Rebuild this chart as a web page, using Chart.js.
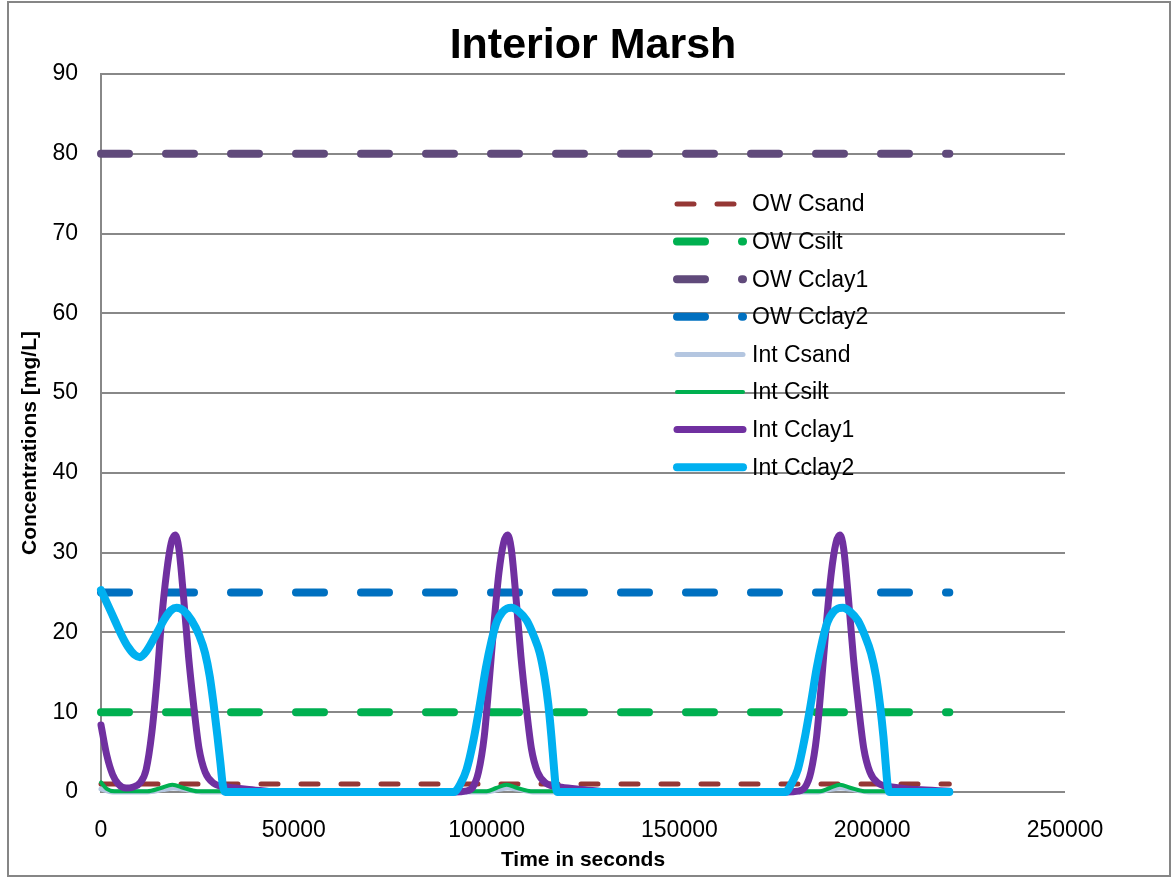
<!DOCTYPE html>
<html>
<head>
<meta charset="utf-8">
<title>Interior Marsh</title>
<script src="https://cdn.jsdelivr.net/npm/chart.js@4.4.1/dist/chart.umd.min.js"></script>
<style>
  html, body { margin: 0; padding: 0; background: #fff; }
  #wrap { width: 1174px; height: 878px; }
</style>
</head>
<body>
<div id="wrap"><canvas id="chart" width="1174" height="878"></canvas></div>
<script>
const FONT = '"Liberation Sans", Arial, sans-serif';

// x axis ticks (seconds) and y axis ticks (mg/L)
const xTicks = [0, 50000, 100000, 150000, 200000, 250000];
const yTicks = [0, 10, 20, 30, 40, 50, 60, 70, 80, 90];

const seriesLabels = ['OW Csand', 'OW Csilt', 'OW Cclay1', 'OW Cclay2',
                      'Int Csand', 'Int Csilt', 'Int Cclay1', 'Int Cclay2'];

// open water boundary concentrations (constant)
const owTime = [0, 220000];
const owCsand = [1, 1];
const owCsilt = [10, 10];
const owCclay1 = [80, 80];
const owCclay2 = [25, 25];

// interior marsh concentrations
const intCsandTime = [0, 3000, 12000, 16000, 18800, 22000, 26000, 100000, 103000, 105500, 108500, 112000,
                      186000, 189000, 191800, 195000, 199000, 220000];
const intCsand = [0.4, 0, 0, 0.3, 0.5, 0.3, 0, 0, 0.3, 0.5, 0.3, 0,
                  0, 0.3, 0.5, 0.3, 0, 0];

const intCsiltTime = [0, 1500, 3500, 12000, 15500, 18500, 21500, 25000, 100000, 102500, 105200, 108000, 111500,
                      186500, 189000, 191600, 194500, 198000, 220000];
const intCsilt = [1.2, 0.4, 0.1, 0.1, 0.5, 0.9, 0.5, 0.1, 0.1, 0.5, 0.9, 0.5, 0.1,
                  0.1, 0.5, 0.9, 0.5, 0.1, 0.1];

const intCclay1Time = [0, 1500, 3000, 4500, 6500, 8200, 10200, 11700, 13200, 14500, 15700, 17000, 18200, 19200,
                       20200, 21400, 22700, 24000, 25400, 27000, 29200, 33200, 39200, 45200,
                       92000, 94400, 96400, 97900, 99400, 100700, 101900, 103200, 104400, 105400,
                       106400, 107600, 108900, 110200, 111600, 113200, 115400, 119400, 125400, 131400,
                       178000, 180600, 182600, 184100, 185600, 186900, 188100, 189400, 190600, 191600,
                       192600, 193800, 195100, 196400, 197800, 199400, 201600, 205600, 211600, 220000];
const intCclay1 = [8.4, 4.6, 2.2, 1.0, 0.5, 0.6, 1.2, 2.8, 7.5, 14, 21.5, 27.5, 31.2, 32.2,
                   30.5, 24.5, 17, 11, 5.5, 2.5, 1.1, 0.6, 0.3, 0,
                   0, 0.1, 0.6, 2.5, 7, 14, 21, 27.5, 31.2, 32.2,
                   30.5, 24.5, 17, 11, 5.5, 2.5, 1.1, 0.6, 0.3, 0,
                   0, 0.1, 0.6, 2.5, 7, 14, 21, 27.5, 31.2, 32.2,
                   30.5, 24.5, 17, 11, 5.5, 2.5, 1.1, 0.6, 0.3, 0.1];

const intCclay2Time = [0, 2000, 3600, 5500, 7000, 8700, 10100, 11700, 14000, 16600, 18200, 19600, 21500,
                       23500, 25500, 27000, 28200, 29200, 30200, 31000, 31600, 32200,
                       91500, 93200, 94800, 96600, 98300, 99800, 101300, 102600, 104000, 105300, 106500,
                       108400, 110400, 112200, 113800, 115000, 116000, 116800, 117400, 117900, 118400,
                       177500, 179000, 180700, 182400, 184100, 185600, 187100, 188400, 189800, 191100, 192400,
                       194300, 196300, 198100, 199700, 201000, 202000, 202900, 203500, 204000, 204500, 220000];
const intCclay2 = [25.3, 23.2, 21.5, 19.5, 18.2, 17.2, 16.9, 17.6, 19.5, 21.8, 22.8, 23.1, 22.7,
                   21.5, 19.6, 17.4, 14.5, 11, 7, 3.5, 0.8, 0,
                   0, 1.0, 2.8, 6.5, 11.1, 15.5, 19, 21.3, 22.5, 23, 23.1,
                   22.6, 21.5, 19.6, 17.4, 14.5, 11, 7, 3.5, 0.8, 0,
                   0, 1.0, 2.8, 6.5, 11.1, 15.5, 19, 21.3, 22.5, 23, 23.1,
                   22.6, 21.5, 19.6, 17.4, 14.5, 11, 7, 3.5, 0.8, 0, 0];

const pts = (t, v) => t.map((x, i) => ({ x: x, y: v[i] }));

const longDash = [28, 37];
const series = [
  { data: pts(owTime, owCsand),   color: '#953735', width: 5, dash: [17, 23] },
  { data: pts(owTime, owCsilt),   color: '#00B050', width: 8, dash: longDash },
  { data: pts(owTime, owCclay1),  color: '#604A7B', width: 8, dash: longDash },
  { data: pts(owTime, owCclay2),  color: '#0070C0', width: 8, dash: longDash },
  { data: pts(intCsandTime, intCsand),   color: '#B4C6E0', width: 5, dash: [] },
  { data: pts(intCsiltTime, intCsilt),   color: '#00B050', width: 4, dash: [] },
  { data: pts(intCclay1Time, intCclay1), color: '#7030A0', width: 7, dash: [] },
  { data: pts(intCclay2Time, intCclay2), color: '#00B0F0', width: 8, dash: [] }
];

const datasets = series.map((s, i) => ({
  label: seriesLabels[i],
  data: s.data,
  borderColor: s.color,
  backgroundColor: s.color,
  borderWidth: s.width,
  borderDash: s.dash,
  borderCapStyle: 'round',
  borderJoinStyle: 'round',
  pointRadius: 0,
  fill: false,
  cubicInterpolationMode: 'monotone',
  clip: false,
  order: series.length - i   // later series painted on top, like the original
}));

// frame, titles and the legend that sits inside the plot
const decorations = {
  id: 'decorations',
  beforeDraw(chart) {
    const ctx = chart.ctx;
    ctx.save();
    ctx.fillStyle = '#fff';
    ctx.fillRect(0, 0, chart.width, chart.height);
    ctx.strokeStyle = '#868686';
    ctx.lineWidth = 2;
    ctx.strokeRect(8, 2, 1162, 874);
    ctx.restore();
  },
  afterDraw(chart) {
    const ctx = chart.ctx;
    const area = chart.chartArea;
    ctx.save();
    ctx.fillStyle = '#000';
    ctx.textAlign = 'center';
    ctx.textBaseline = 'alphabetic';
    ctx.font = 'bold 43px ' + FONT;
    ctx.fillText('Interior Marsh', 593, 58);

    ctx.font = 'bold 21px ' + FONT;
    ctx.fillText('Time in seconds', (area.left + area.right) / 2, 866);

    ctx.translate(36, 443);
    ctx.rotate(-Math.PI / 2);
    ctx.fillText('Concentrations [mg/L]', 0, 0);
    ctx.restore();

    // legend
    ctx.save();
    ctx.font = '23px ' + FONT;
    ctx.textAlign = 'left';
    ctx.textBaseline = 'middle';
    chart.data.datasets.forEach((ds, i) => {
      const y = 204 + i * 37.6;
      ctx.strokeStyle = ds.borderColor;
      ctx.lineWidth = ds.borderWidth;
      ctx.lineCap = 'round';
      ctx.setLineDash(ds.borderDash);
      ctx.beginPath();
      ctx.moveTo(677, y);
      ctx.lineTo(743, y);
      ctx.stroke();
      ctx.setLineDash([]);
      ctx.fillStyle = '#000';
      ctx.fillText(ds.label, 752, y + 1);
    });
    ctx.restore();
  }
};

new Chart(document.getElementById('chart'), {
  type: 'line',
  data: { datasets: datasets },
  options: {
    responsive: false,
    animation: false,
    devicePixelRatio: 1,
    layout: { padding: { left: 0, right: 109, top: 74, bottom: 0 } },
    plugins: {
      legend: { display: false },
      title: { display: false },
      tooltip: { enabled: false }
    },
    scales: {
      x: {
        type: 'linear',
        min: xTicks[0],
        max: xTicks[xTicks.length - 1],
        afterBuildTicks: s => { s.ticks = xTicks.map(v => ({ value: v })); },
        afterFit: s => { s.height = 86; },
        grid: { display: false, drawTicks: false },
        border: { display: false },
        ticks: {
          color: '#000',
          padding: 25,
          maxRotation: 0,
          font: { family: FONT, size: 23 },
          callback: v => String(v)
        }
      },
      y: {
        min: yTicks[0],
        max: yTicks[yTicks.length - 1],
        afterBuildTicks: s => { s.ticks = yTicks.map(v => ({ value: v })); },
        afterFit: s => { s.width = 101; },
        grid: { color: '#888888', lineWidth: 2, drawTicks: false },
        border: { display: true, color: '#888888', width: 2 },
        ticks: {
          color: '#000',
          padding: 23,
          font: { family: FONT, size: 23 },
          callback: v => String(v)
        }
      }
    }
  },
  plugins: [decorations]
});
</script>
</body>
</html>
